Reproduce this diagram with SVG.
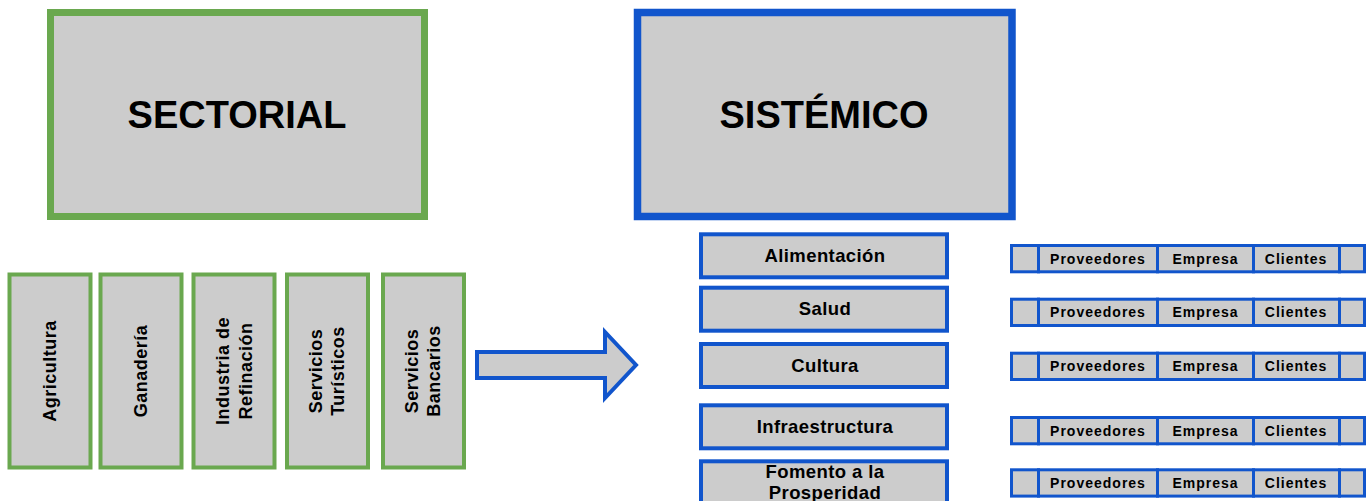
<svg xmlns="http://www.w3.org/2000/svg" width="1369" height="501" viewBox="0 0 1369 501">
<style>
.g{fill:#cccccc;stroke:#6aa84f}
.b{fill:#cccccc;stroke:#1155cc}
text{font-family:"Liberation Sans",Arial,sans-serif;font-weight:bold;fill:#000;text-anchor:middle}
.h{font-size:38px}
.v{font-size:18px;letter-spacing:0.5px}
.s{font-size:18.5px;letter-spacing:0.4px}
.c{font-size:14px;letter-spacing:1px}
</style>
<rect width="1369" height="501" fill="#ffffff"/>
<g id="sectorial"><rect class="g" x="50.5" y="12.5" width="374" height="204" stroke-width="7"/><text class="h" x="237" y="128">SECTORIAL</text></g>
<g id="sistemico"><rect class="b" x="637.5" y="12.5" width="374.5" height="204" stroke-width="7.5"/><text class="h" x="824" y="128">SISTÉMICO</text></g>
<g id="agricultura"><rect class="g" x="9.5" y="274.5" width="81" height="193" stroke-width="4"/><text class="v" transform="translate(56,371) rotate(-90)">Agricultura</text></g>
<g id="ganaderia"><rect class="g" x="100.5" y="274.5" width="81" height="193" stroke-width="4"/><text class="v" transform="translate(147,371) rotate(-90)">Ganadería</text></g>
<g id="industria"><rect class="g" x="193.5" y="274.5" width="81" height="193" stroke-width="4"/><text class="v" transform="translate(229,371) rotate(-90)">Industria de</text><text class="v" transform="translate(252,371) rotate(-90)">Refinación</text></g>
<g id="turisticos"><rect class="g" x="287" y="274.5" width="81" height="193" stroke-width="4"/><text class="v" transform="translate(322,371) rotate(-90)">Servicios</text><text class="v" transform="translate(344,371) rotate(-90)">Turísticos</text></g>
<g id="bancarios"><rect class="g" x="383" y="274.5" width="81" height="193" stroke-width="4"/><text class="v" transform="translate(418,371) rotate(-90)">Servicios</text><text class="v" transform="translate(440,371) rotate(-90)">Bancarios</text></g>
<g id="connectors"><polygon class="b" stroke-width="4" points="477,352 605,352 605,332 636,365 605,398 605,378 477,378"/></g>
<g id="alimentacion"><rect class="b" x="701" y="234.3" width="246" height="43" stroke-width="4"/><text class="s" x="825" y="262">Alimentación</text></g>
<g id="salud"><rect class="b" x="701" y="287.7" width="246" height="43" stroke-width="4"/><text class="s" x="825" y="315.3">Salud</text></g>
<g id="cultura"><rect class="b" x="701" y="344" width="246" height="43" stroke-width="4"/><text class="s" x="825" y="371.7">Cultura</text></g>
<g id="infraestructura"><rect class="b" x="701" y="405.3" width="246" height="43" stroke-width="4"/><text class="s" x="825" y="432.8">Infraestructura</text></g>
<g id="fomento"><rect class="b" x="701" y="461.3" width="246" height="43" stroke-width="4"/><text class="s" x="825" y="478.3">Fomento a la</text><text class="s" x="825" y="499.3">Prosperidad</text></g>
<g id="row1" transform="translate(0,245.5)"><rect class="b" x="1011.5" y="0" width="27" height="26.3" stroke-width="3"/><rect class="b" x="1038.5" y="0" width="119" height="26.3" stroke-width="3"/><rect class="b" x="1157.5" y="0" width="96" height="26.3" stroke-width="3"/><rect class="b" x="1253.5" y="0" width="86" height="26.3" stroke-width="3"/><rect class="b" x="1339.5" y="0" width="25" height="26.3" stroke-width="3"/><text class="c" x="1098" y="18">Proveedores</text><text class="c" x="1205.5" y="18">Empresa</text><text class="c" x="1296" y="18">Clientes</text></g>
<g id="row2" transform="translate(0,299.2)"><rect class="b" x="1011.5" y="0" width="27" height="26.3" stroke-width="3"/><rect class="b" x="1038.5" y="0" width="119" height="26.3" stroke-width="3"/><rect class="b" x="1157.5" y="0" width="96" height="26.3" stroke-width="3"/><rect class="b" x="1253.5" y="0" width="86" height="26.3" stroke-width="3"/><rect class="b" x="1339.5" y="0" width="25" height="26.3" stroke-width="3"/><text class="c" x="1098" y="18">Proveedores</text><text class="c" x="1205.5" y="18">Empresa</text><text class="c" x="1296" y="18">Clientes</text></g>
<g id="row3" transform="translate(0,353.2)"><rect class="b" x="1011.5" y="0" width="27" height="26.3" stroke-width="3"/><rect class="b" x="1038.5" y="0" width="119" height="26.3" stroke-width="3"/><rect class="b" x="1157.5" y="0" width="96" height="26.3" stroke-width="3"/><rect class="b" x="1253.5" y="0" width="86" height="26.3" stroke-width="3"/><rect class="b" x="1339.5" y="0" width="25" height="26.3" stroke-width="3"/><text class="c" x="1098" y="18">Proveedores</text><text class="c" x="1205.5" y="18">Empresa</text><text class="c" x="1296" y="18">Clientes</text></g>
<g id="row4" transform="translate(0,417.5)"><rect class="b" x="1011.5" y="0" width="27" height="26.3" stroke-width="3"/><rect class="b" x="1038.5" y="0" width="119" height="26.3" stroke-width="3"/><rect class="b" x="1157.5" y="0" width="96" height="26.3" stroke-width="3"/><rect class="b" x="1253.5" y="0" width="86" height="26.3" stroke-width="3"/><rect class="b" x="1339.5" y="0" width="25" height="26.3" stroke-width="3"/><text class="c" x="1098" y="18">Proveedores</text><text class="c" x="1205.5" y="18">Empresa</text><text class="c" x="1296" y="18">Clientes</text></g>
<g id="row5" transform="translate(0,469.8)"><rect class="b" x="1011.5" y="0" width="27" height="26.3" stroke-width="3"/><rect class="b" x="1038.5" y="0" width="119" height="26.3" stroke-width="3"/><rect class="b" x="1157.5" y="0" width="96" height="26.3" stroke-width="3"/><rect class="b" x="1253.5" y="0" width="86" height="26.3" stroke-width="3"/><rect class="b" x="1339.5" y="0" width="25" height="26.3" stroke-width="3"/><text class="c" x="1098" y="18">Proveedores</text><text class="c" x="1205.5" y="18">Empresa</text><text class="c" x="1296" y="18">Clientes</text></g>
</svg>
